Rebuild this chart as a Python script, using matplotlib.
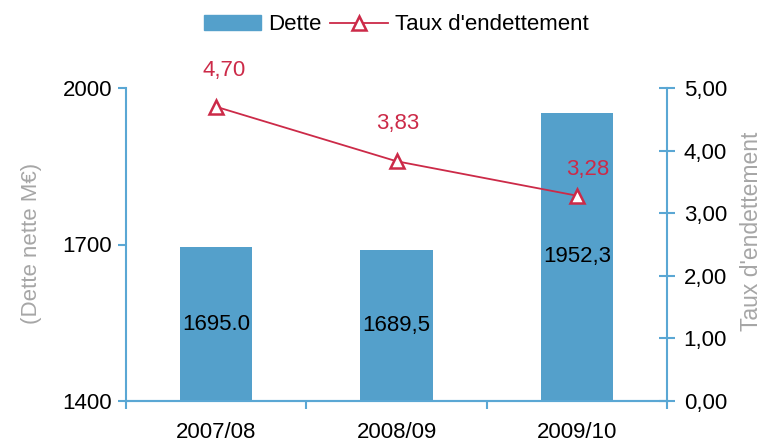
import matplotlib.pyplot as plt
from matplotlib.lines import Line2D
from matplotlib.patches import Patch

plt.rcParams['font.family'] = ['Liberation Sans', 'DejaVu Sans']

# donnees
annees = ['2007/08', '2008/09', '2009/10']
dette = [1695.0, 1689.5, 1952.3]
dette_labels = ['1695.0', '1689,5', '1952,3']
taux = [4.70, 3.83, 3.28]
taux_labels = ['4,70', '3,83', '3,28']
# decalage des etiquettes du taux (points)
taux_offsets = [(6, 26), (1, 27), (8, 19)]

bleu = '#54a0cb'
axe_bleu = '#5aa7d4'
rouge = '#cc2a48'
gris = '#a6a6a6'
fs = 16

fig = plt.figure(figsize=(7.64, 4.42), dpi=100)
ax = fig.add_axes([126/764, 1-401/442, (667-126)/764, (401-88)/442])
ax2 = ax.twinx()

x = list(range(len(annees)))
base = 1400
bars = ax.bar(x, [d - base for d in dette], bottom=base, width=0.4, color=bleu, zorder=2)
for i, b in enumerate(bars):
    ax.text(x[i], base + (dette[i] - base) / 2, dette_labels[i], ha='center', va='center',
            fontsize=fs, color='black')

ax.set_xlim(-0.5, 2.5)
ax.set_ylim(1400, 2000)
ax.set_yticks([1400, 1700, 2000])
ax.set_xticks(x)
ax.set_xticklabels(annees, fontsize=fs)
ax.set_xticks([-0.5, 0.5, 1.5, 2.5], minor=True)
ax.tick_params(axis='x', which='major', length=0, pad=15)
ax.tick_params(axis='x', which='minor', length=6, width=1.5, color=axe_bleu, direction='out')
ax.tick_params(axis='y', length=6, width=1.5, color=axe_bleu, labelsize=fs, pad=4)

ax2.plot(x, taux, color=rouge, lw=1.3, marker='^', markersize=10, markerfacecolor='white',
         markeredgecolor=rouge, markeredgewidth=1.8, zorder=3)
for i in range(len(taux)):
    ax2.annotate(taux_labels[i], (x[i], taux[i]), xytext=taux_offsets[i], textcoords='offset points',
                 ha='center', va='center', fontsize=fs, color=rouge, annotation_clip=False)
ax2.set_ylim(0, 5)
ax2.set_yticks([0, 1, 2, 3, 4, 5])
ax2.set_yticklabels(['0,00', '1,00', '2,00', '3,00', '4,00', '5,00'])
ax2.tick_params(axis='y', length=12, width=1.5, color=axe_bleu, direction='inout', labelsize=fs, pad=6)

# titres des axes
fig.text(32/764, 1-243/442, '(Dette nette M€)', rotation=90, ha='center', va='center',
         fontsize=fs, color=gris)
fig.text(751/764, 1-231/442, "Taux d'endettement", rotation=90, ha='center', va='center',
         fontsize=fs + 0.5, color=gris)

for a in (ax, ax2):
    a.spines['top'].set_visible(False)
    for s in ['left', 'right', 'bottom']:
        a.spines[s].set_color(axe_bleu)
        a.spines[s].set_linewidth(1.5)
ax.spines['right'].set_visible(False)
ax2.spines['left'].set_visible(False)

handles = [Patch(color=bleu, label='Dette'),
           Line2D([0], [0], color=rouge, lw=1.3, marker='^', markersize=10, markerfacecolor='white',
                  markeredgecolor=rouge, markeredgewidth=1.8, label="Taux d'endettement")]
fig.legend(handles=handles, loc='center', bbox_to_anchor=(396/764, 1-25/442), ncol=2, frameon=False,
           fontsize=fs, handlelength=2.6, handleheight=0.68, handletextpad=0.3, columnspacing=0.4)

plt.savefig('out.png', dpi=100)
